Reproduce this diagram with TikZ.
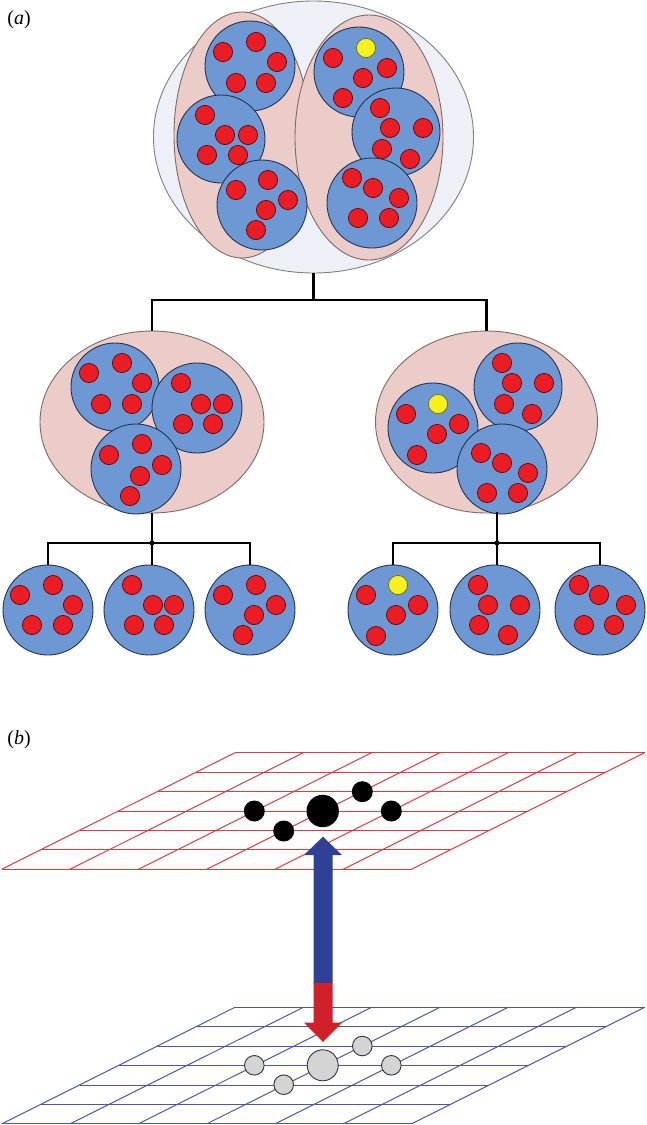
\documentclass[tikz,border=0pt]{standalone}
\usepackage{fontspec}
\setmainfont{Liberation Serif}
\usetikzlibrary{shapes.geometric}
\definecolor{outerfill}{HTML}{EDF1F7}
\definecolor{outerline}{HTML}{7F7F7F}
\definecolor{pinkfill}{HTML}{EBCCC8}
\definecolor{pinkline}{HTML}{7D6A66}
\definecolor{bluefill}{HTML}{6E98D4}
\definecolor{blueline}{HTML}{24344F}
\definecolor{dotred}{HTML}{EC1C24}
\definecolor{dotline}{HTML}{5A0A0A}
\definecolor{dotyellow}{HTML}{F5F01E}
\definecolor{yline}{HTML}{6B6B20}
\definecolor{gridred}{HTML}{E5393C}
\definecolor{gridblue}{HTML}{4A57A8}
\definecolor{arrowblue}{HTML}{2E4196}
\definecolor{arrowred}{HTML}{D0202A}
\definecolor{dotgray}{HTML}{D4D4D4}
\tikzset{
  outerE/.style={ellipse, draw=outerline, fill=outerfill, line width=0.9pt, inner sep=0pt},
  pinkE/.style={ellipse, draw=pinkline, fill=pinkfill, line width=0.9pt, inner sep=0pt},
  blueC/.style={circle, draw=blueline, fill=bluefill, line width=0.9pt, inner sep=0pt, minimum size=#1},
  blueC/.default=90pt,
  rdot/.style={draw=dotline, fill=dotred, line width=0.7pt},
  ydot/.style={draw=yline, fill=dotyellow, line width=0.7pt},
  link/.style={line width=2.4pt, black},
  rgrid/.style={draw=gridred, line width=1pt},
  bgrid/.style={draw=gridblue, line width=1pt},
  bdot/.style={fill=black},
  gdot/.style={draw=black!80, fill=dotgray, line width=0.9pt},
  lbl/.style={inner sep=0pt, font=\fontsize{20}{24}\selectfont}
}
\newcommand\reddots[1]{\foreach \px/\py in {#1} {\draw[rdot] (\px,\py) circle (9.6pt);}}
\newcommand\ydotat[2]{\draw[ydot] (#1,#2) circle (9.6pt);}
\begin{document}
\begin{tikzpicture}[x=1pt,y=-1pt]
\fill[white] (0,0) rectangle (646,1125);
\useasboundingbox (0,0) rectangle (646,1125);

\node[lbl] (la) at (19,20) {(\textit{a})};
\node[lbl] (lb) at (19,740) {(\textit{b})};

% ---------- top cluster ----------
\node[outerE, minimum width=320pt, minimum height=272pt] (outer) at (313.5,137) {};
\node[pinkE, minimum width=136pt, minimum height=246pt] (pinkL) at (242,135) {};
\node[pinkE, minimum width=148pt, minimum height=245pt] (pinkR) at (369,137.5) {};

\node[blueC] (tLT) at (250,66) {};
\reddots{223/52, 256/42, 277/62, 236/83, 266/83}
\node[blueC=88pt] (tLM) at (221,139) {};
\reddots{205/115, 225/135, 248/135, 207/155, 238/155}
\node[blueC] (tLB) at (262,205) {};
\reddots{236/190, 268/180, 288/200, 266/210, 256/230}
\node[blueC] (tRT) at (359,72) {};
\reddots{333/58, 387/68, 363/78, 343/98}
\ydotat{366}{48}
\node[blueC=88pt] (tRM) at (396,132) {};
\reddots{380/108, 390/128, 423/128, 382/149, 410/159}
\node[blueC] (tRB) at (372,203) {};
\reddots{352/178, 373/188, 399/198, 358/218, 389/218}

% ---------- middle left ----------
\node[pinkE, minimum width=224pt, minimum height=182pt] (midL) at (152,422) {};
\node[blueC=88pt] (mA) at (115,387) {};
\reddots{89/373, 122/363, 142/383, 101/404, 132/404}
\node[blueC] (mB) at (197,408) {};
\reddots{181/383, 201/404, 223/404, 183/424, 213/424}
\node[blueC] (mC) at (136,469) {};
\reddots{109/455, 142/444, 162/465, 140/476, 130/496}

% ---------- middle right ----------
\node[pinkE, minimum width=222pt, minimum height=182pt] (midR) at (486.5,422) {};
\node[blueC] (mD) at (433,428) {};
\reddots{406/414, 459/424, 437/434, 417/455}
\ydotat{438}{404}
\node[blueC=88pt] (mE) at (518,387) {};
\reddots{502/363, 512/383, 544/383, 504/404, 532/414}
\node[blueC] (mF) at (502,469) {};
\reddots{481/453, 502/463, 528/473, 487/493, 518/493}

% ---------- bottom row ----------
\node[blueC] (b1) at (48,610) {};
\reddots{20/595, 53/585, 73/605, 32/625, 63/625}
\node[blueC] (b2) at (149,610) {};
\reddots{132/585, 153/605, 174/605, 134/625, 164/625}
\node[blueC] (b3) at (250,610) {};
\reddots{223/595, 256/585, 276/605, 254/615, 243/635}
\node[blueC] (b4) at (393,610) {};
\reddots{366/595, 418/605, 396/615, 376/636}
\ydotat{398}{585}
\node[blueC] (b5) at (495,610) {};
\reddots{478/585, 488/605, 520/605, 479/625, 508/635}
\node[blueC] (b6) at (600,610) {};
\reddots{579/585, 599/595, 626/605, 584/625, 614/625}

% ---------- connectors ----------
\coordinate (hub) at (313.5,300);
\draw[link] (outer.south) -- (hub);
\draw[link] (midL.north) |- (hub) -| (midR.north);

\coordinate (jL) at (152,543);
\draw[link] (midL.south) -- (jL);
\draw[link] (b1.north) |- (jL) -| (b3.north);
\draw[link] (jL) -- (jL |- b2.north);
\fill (jL) circle (2.6pt);

\coordinate (jRtop) at (497,512);
\coordinate (jR) at (497,543);
\draw[link] (jRtop) -- (jR);
\draw[link] (b4.north) |- (jR) -| (b6.north);
\draw[link] (jR) -- (jR |- b5.north);
\fill (jR) circle (2.6pt);

% ---------- panel (b): upper plane ----------
\foreach \i in {0,...,6} {
  \draw[rgrid] ({235-2*\i*19.43},{752.7+\i*19.43}) -- ({644.7-2*\i*19.43},{752.7+\i*19.43});
}
\foreach \j in {0,...,6} {
  \draw[rgrid] ({235+\j*68.28},752.7) -- ({1.7+\j*68.28},869.3);
}
\fill[bdot] (254.3,811) circle (10.5pt);
\fill[bdot] (283.7,831) circle (10.5pt);
\fill[bdot] (322.7,811) circle (16.2pt);
\fill[bdot] (362.3,791.7) circle (10.5pt);
\fill[bdot] (391.3,811) circle (10.5pt);

% ---------- panel (b): lower plane ----------
\foreach \i in {0,...,6} {
  \draw[bgrid] ({235-2*\i*19.43},{1007.3+\i*19.43}) -- ({644.7-2*\i*19.43},{1007.3+\i*19.43});
}
\foreach \j in {0,...,6} {
  \draw[bgrid] ({235+\j*68.28},1007.3) -- ({1.7+\j*68.28},1123.9);
}
\draw[gdot] (254.3,1065.3) circle (9.8pt);
\draw[gdot] (283.7,1084.7) circle (9.8pt);
\draw[gdot] (322.7,1065.3) circle (15.5pt);
\draw[gdot] (362.3,1046) circle (9.8pt);
\draw[gdot] (391.3,1065.3) circle (9.8pt);

% ---------- double arrow ----------
\fill[arrowblue] (313.5,983.5) -- (313.5,855) -- (304,855) -- (323,836.7) -- (342,855) -- (332.5,855) -- (332.5,983.5) -- cycle;
\fill[arrowred] (313.5,983) -- (313.5,1022.7) -- (304,1022.7) -- (323,1042) -- (342,1022.7) -- (332.5,1022.7) -- (332.5,983) -- cycle;
\end{tikzpicture}
\end{document}
